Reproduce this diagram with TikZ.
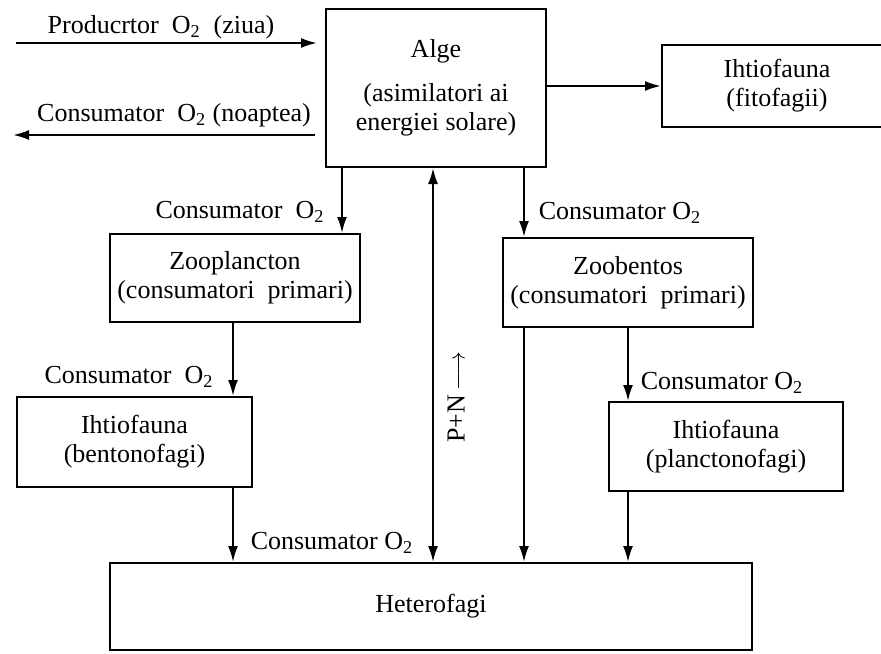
\documentclass[tikz,border=0pt]{standalone}
\usepackage{fontspec}
\setmainfont{Liberation Serif}
\usetikzlibrary{arrows.meta}

\begin{document}
\begin{tikzpicture}[x=0.5pt, y=-0.5pt, line width=1pt,
  font=\fontsize{13}{14.5}\selectfont,
  box/.style={draw, align=center, inner sep=0pt},
  lbl/.style={inner sep=0pt},
  arr/.style={-{Latex[length=8pt,width=5pt]}},
  arrs/.style={{Latex[length=8pt,width=5pt]}-{Latex[length=8pt,width=5pt]}}]
 \useasboundingbox (0,0) rectangle (881,653);
 \clip (0,0) rectangle (881,653);
 \node [box, minimum width=110pt, minimum height=79pt] (alge) at (436,88)
  {Alge\\[7.5pt](asimilatori ai\\energiei solare)};
 \node [box, minimum width=115pt, minimum height=41pt] (fito) at (777,86)
  {Ihtiofauna\\(fitofagii)};
 \node [box, minimum width=125pt, minimum height=44pt] (zoopl) at (235,278)
  {Zooplancton\\(consumatori\ \ primari)};
 \node [box, minimum width=125pt, minimum height=44.5pt] (zoob) at (628,282.5)
  {Zoobentos\\(consumatori\ \ primari)};
 \node [box, minimum width=117.5pt, minimum height=45pt] (bento) at (134.5,442)
  {Ihtiofauna\\(bentonofagi)};
 \node [box, minimum width=117pt, minimum height=44.5pt] (plancto) at (726,446.5)
  {Ihtiofauna\\(planctonofagi)};
 \node [box, minimum width=321pt, minimum height=43.5pt] (hetero) at (431,606.5)
  {Heterofagi};
 \coordinate (pin) at (16,43);
 \coordinate (nout) at (13,135);
 \coordinate (c1) at (233,0);
 \coordinate (c2) at (342,0);
 \coordinate (c3) at (433,0);
 \coordinate (c4) at (524,0);
 \coordinate (c5) at (628,0);
 \node [lbl] (prod) at (161,27) {Producrtor\ \ O\textsubscript{2}\ \ (ziua)};
 \node [lbl] (noapte) at (174,115) {Consumator\ \ O\textsubscript{2} (noaptea)};
 \node [lbl] (cz) at (240,212) {Consumator\ \ O\textsubscript{2}};
 \node [lbl] (cb) at (620,213) {Consumator O\textsubscript{2}};
 \node [lbl] (cbento) at (129,377) {Consumator\ \ O\textsubscript{2}};
 \node [lbl] (cplancto) at (722,383) {Consumator O\textsubscript{2}};
 \node [lbl] (chetero) at (332,543) {Consumator O\textsubscript{2}};
 \node [lbl, rotate=90] (pn) at (456,397) {P+N\,$\longrightarrow$};
 \draw [arr, shorten >=4pt] (pin) -- (alge.west |- pin);
 \draw [arr, shorten <=5pt] (alge.west |- nout) -- (nout);
 \draw [arr] (alge.east |- fito) -- (fito.west);
 \draw [arr] (alge.south -| c2) -- (zoopl.north -| c2);
 \draw [arr] (zoopl.south -| c1) -- (bento.north -| c1);
 \draw [arr] (bento.south -| c1) -- (hetero.north -| c1);
 \draw [arrs] (hetero.north -| c3) -- (alge.south -| c3);
 \draw [arr] (alge.south -| c4) -- (zoob.north -| c4);
 \draw [arr] (zoob.south -| c4) -- (hetero.north -| c4);
 \draw [arr] (zoob.south -| c5) -- (plancto.north -| c5);
 \draw [arr] (plancto.south -| c5) -- (hetero.north -| c5);
\end{tikzpicture}
\end{document}
